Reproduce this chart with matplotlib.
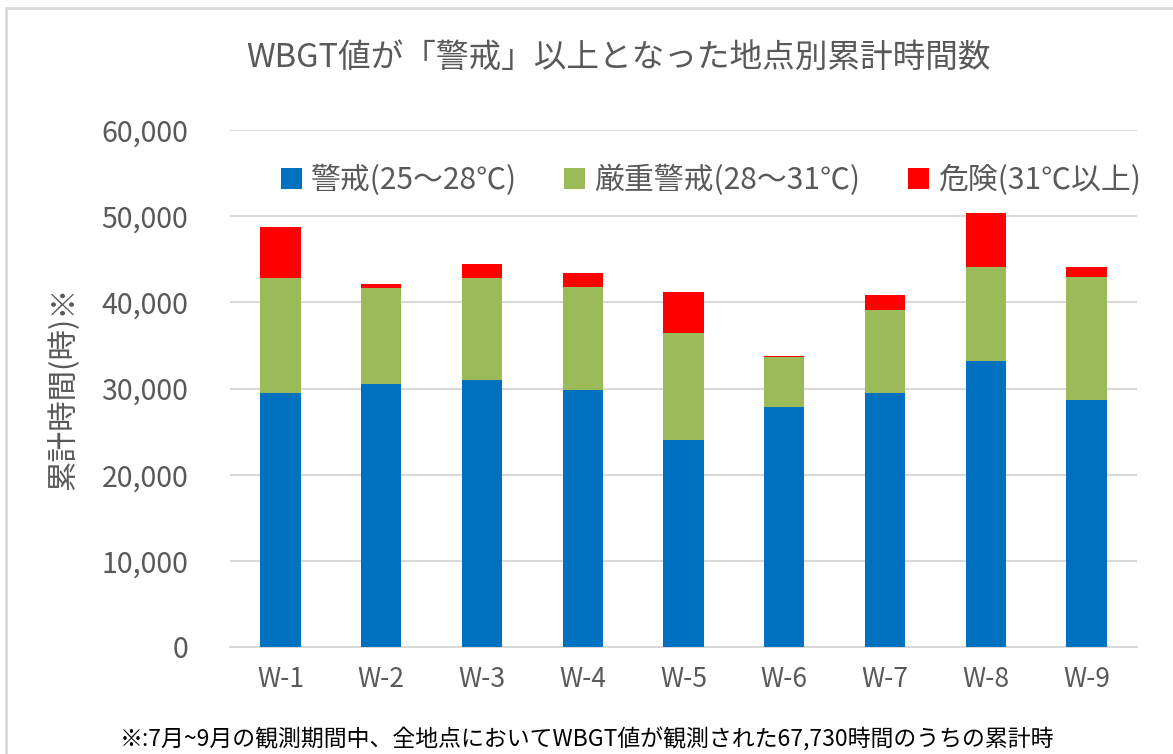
import matplotlib
matplotlib.use("Agg")
import matplotlib.pyplot as plt
from matplotlib.patches import Rectangle
from matplotlib.ticker import FuncFormatter

plt.rcParams['font.family'] = ['Noto Sans CJK JP', 'DejaVu Sans']

sites = ["W-1", "W-2", "W-3", "W-4", "W-5", "W-6", "W-7", "W-8", "W-9"]
keikai = [29500, 30500, 31000, 29800, 24000, 27900, 29500, 33200, 28700]
genju = [13300, 11200, 11800, 12000, 12400, 5800, 9600, 10900, 14200]
kiken = [5900, 400, 1700, 1600, 4800, 100, 1700, 6300, 1200]
series_names = ["警戒(25～28℃)", "厳重警戒(28～31℃)", "危険(31℃以上)"]
colors = ["#0070C0", "#9BBB59", "#FF0000"]
yticks = [0, 10000, 20000, 30000, 40000, 50000, 60000]

W, H = 1173, 754
fig = plt.figure(figsize=(W/100, H/100), dpi=100)
txt = "#595959"

# chart frame
fig.patches.append(Rectangle((6/W, -0.1), 1.2, (H-8)/H + 0.1, transform=fig.transFigure,
                             fill=False, edgecolor="#D9D9D9", linewidth=2))

ax = fig.add_axes([230/W, 1-647/H, (1137-230)/W, (647-130)/H])
x = list(range(len(sites)))
bottom2 = [a for a in keikai]
bottom3 = [a + b for a, b in zip(keikai, genju)]
bw = 0.4
ax.bar(x, keikai, bw, color=colors[0], label=series_names[0], zorder=3)
ax.bar(x, genju, bw, bottom=bottom2, color=colors[1], label=series_names[1], zorder=3)
ax.bar(x, kiken, bw, bottom=bottom3, color=colors[2], label=series_names[2], zorder=3)

ax.set_xlim(-0.5, len(sites) - 0.5)
ax.set_ylim(0, 60000)
ax.set_yticks(yticks)
ax.yaxis.set_major_formatter(FuncFormatter(lambda v, p: f"{int(v):,}"))
ax.set_xticks(x)
ax.set_xticklabels(sites)
ax.grid(axis='y', color="#D9D9D9", linewidth=1.5, zorder=0)
for s in ax.spines.values():
    s.set_visible(False)
ax.spines['bottom'].set_visible(True)
ax.spines['bottom'].set_color("#D9D9D9")
ax.spines['bottom'].set_linewidth(1.5)
ax.tick_params(axis='both', length=0, labelsize=19, colors=txt)
ax.tick_params(axis='y', labelsize=20.5, pad=30)
ax.tick_params(axis='x', pad=14)

ax.set_ylabel("累計時間(時)※", fontsize=22, color=txt, labelpad=16)

leg = ax.legend(loc='upper center', bbox_to_anchor=(0.53, 0.985), ncol=3, frameon=False,
                fontsize=21.5, handlelength=0.7, handleheight=0.7, handletextpad=0.3,
                columnspacing=1.6, labelcolor=txt)

fig.text(618/W, 1-58/H, "WBGT値が「警戒」以上となった地点別累計時間数", ha='center', va='center',
         fontsize=23.5, color=txt)
fig.text(120/W, 2/H, "※:7月~9月の観測期間中、全地点においてWBGT値が観測された67,730時間のうちの累計時",
         ha='left', va='bottom', fontsize=16.5, color="#000000")

fig.savefig("out.png", dpi=100)
